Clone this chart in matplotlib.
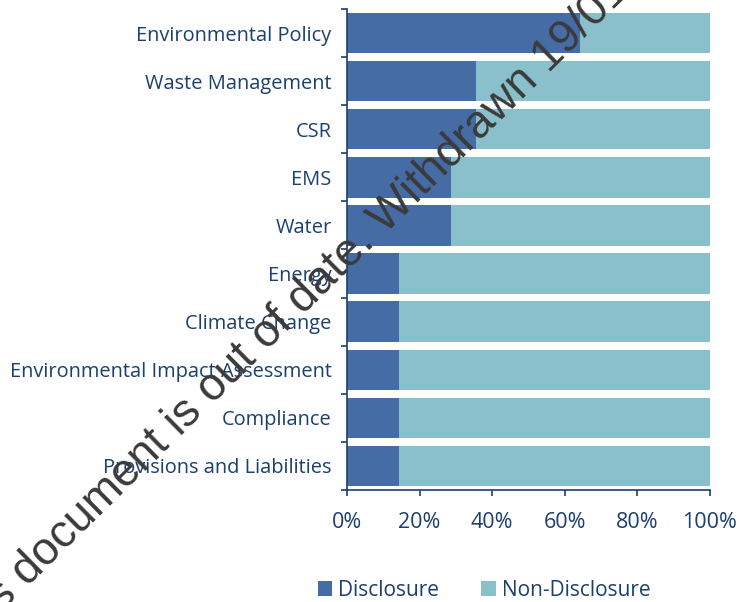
import matplotlib
matplotlib.use("Agg")
import matplotlib.pyplot as plt
import numpy as np

categories = [
    "Environmental Policy",
    "Waste Management",
    "CSR",
    "EMS",
    "Water",
    "Energy",
    "Climate Change",
    "Environmental Impact Assessment",
    "Compliance",
    "Provisions and Liabilities",
]
disclosure = [64.3, 35.7, 35.7, 28.6, 28.6, 14.3, 14.3, 14.3, 14.3, 14.3]
non_disclosure = [100 - d for d in disclosure]
x_ticks = [0, 20, 40, 60, 80, 100]
x_tick_labels = ["0%", "20%", "40%", "60%", "80%", "100%"]

DARK_BLUE = "#1B3F6E"
C_DISC = "#466CA6"
C_NON = "#8AC0CB"

plt.rcParams["font.family"] = ["Open Sans", "DejaVu Sans"]

fig = plt.figure(figsize=(7.4, 6.02), dpi=100)
ax = fig.add_axes([347 / 740, 1 - 490 / 602, (709.7 - 347) / 740, (490 - 9) / 602])

y = np.arange(len(categories))
h = 0.84
ax.barh(y, disclosure, height=h, color=C_DISC, label="Disclosure")
ax.barh(y, non_disclosure, left=disclosure, height=h, color=C_NON, label="Non-Disclosure")

ax.set_xlim(0, 100)
ax.set_ylim(len(categories) - 0.5, -0.5)

ax.set_yticks(y)
ax.set_yticklabels(categories, fontsize=14.4, color=DARK_BLUE)
ax.set_yticks(np.arange(len(categories) + 1) - 0.5, minor=True)
ax.tick_params(axis="y", which="major", length=0, pad=11)
ax.tick_params(axis="y", which="minor", length=4, width=1.2, color=DARK_BLUE)

ax.set_xticks(x_ticks)
ax.set_xticklabels(x_tick_labels, fontsize=15.5, color=DARK_BLUE)
ax.tick_params(axis="x", which="major", length=4, width=1.2, color=DARK_BLUE, pad=12)

for side in ("top", "right"):
    ax.spines[side].set_visible(False)
for side in ("left", "bottom"):
    ax.spines[side].set_color(DARK_BLUE)
    ax.spines[side].set_linewidth(1.2)

fig.legend(loc="center", bbox_to_anchor=(484 / 740, 1 - 590 / 602), ncol=2,
           frameon=False, fontsize=15, handlelength=0.7, handleheight=0.7,
           handletextpad=0.3, columnspacing=2.0, labelcolor=DARK_BLUE)

# diagonal "out of date" stamp across the figure
fig.text(-43 / 740, 1 - 657 / 602, "This document is out of date. Withdrawn 19/01",
         rotation=44.6, rotation_mode="anchor", ha="left", va="baseline",
         fontsize=33, color="#3A3A3A", family="Liberation Sans")

fig.savefig("out.png", dpi=100)
